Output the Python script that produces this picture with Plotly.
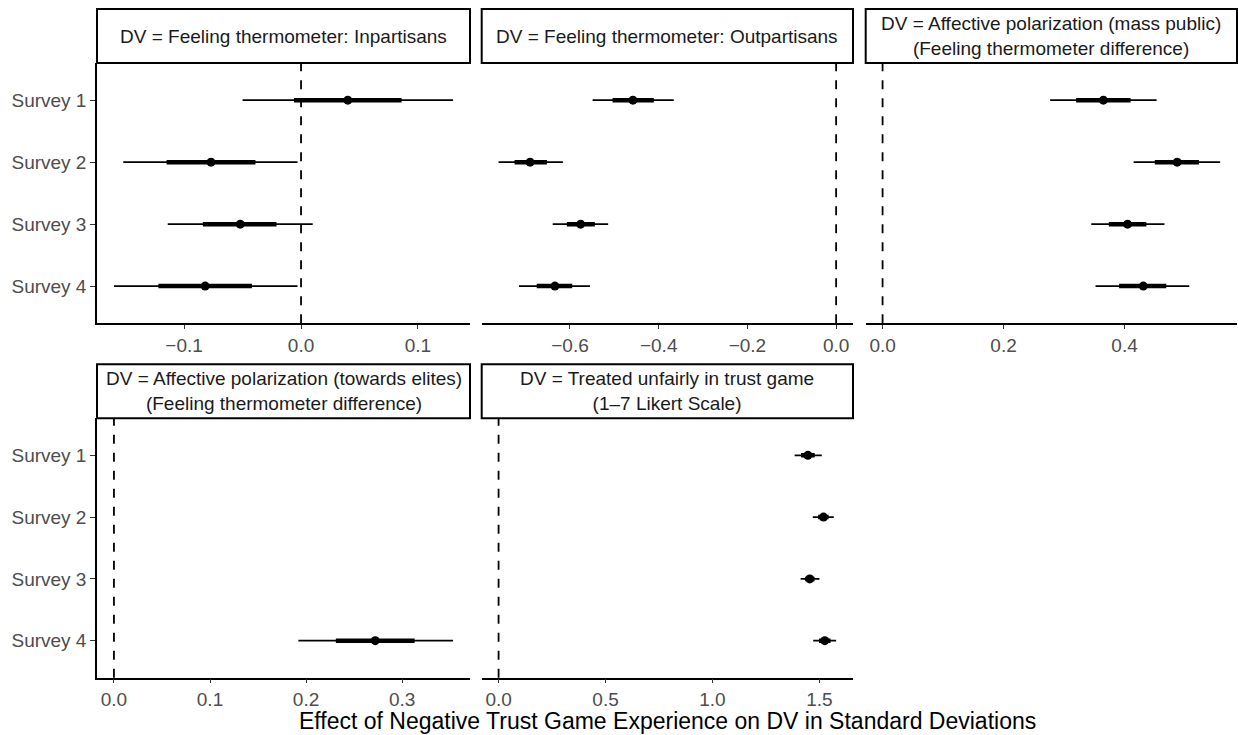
import plotly.graph_objects as go

surveys = ["Survey 1", "Survey 2", "Survey 3", "Survey 4"]
panel_titles = [
    "DV = Feeling thermometer: Inpartisans",
    "DV = Feeling thermometer: Outpartisans",
    "DV = Affective polarization (mass public)<br>(Feeling thermometer difference)",
    "DV = Affective polarization (towards elites)<br>(Feeling thermometer difference)",
    "DV = Treated unfairly in trust game<br>(1\u20137 Likert Scale)",
]
N = None
estimate = [
    [0.040, -0.077, -0.052, -0.082],
    [-0.458, -0.690, -0.576, -0.634],
    [0.365, 0.487, 0.405, 0.431],
    [N, N, N, 0.272],
    [1.446, 1.519, 1.455, 1.525],
]
lower95 = [
    [-0.050, -0.152, -0.114, -0.160],
    [-0.549, -0.761, -0.639, -0.715],
    [0.277, 0.415, 0.345, 0.352],
    [N, N, N, 0.192],
    [1.384, 1.469, 1.412, 1.471],
]
upper95 = [
    [0.130, -0.003, 0.010, -0.003],
    [-0.366, -0.616, -0.514, -0.555],
    [0.453, 0.558, 0.466, 0.507],
    [N, N, N, 0.353],
    [1.511, 1.567, 1.500, 1.578],
]
lower_inner = [
    [-0.006, -0.115, -0.084, -0.122],
    [-0.504, -0.725, -0.607, -0.675],
    [0.320, 0.450, 0.374, 0.391],
    [N, N, N, 0.231],
    [1.414, 1.494, 1.433, 1.498],
]
upper_inner = [
    [0.086, -0.039, -0.021, -0.042],
    [-0.411, -0.652, -0.544, -0.595],
    [0.410, 0.523, 0.436, 0.469],
    [N, N, N, 0.313],
    [1.478, 1.543, 1.477, 1.552],
]
x_dticks = [0.1, 0.2, 0.2, 0.1, 0.5]

W, H = 1238, 735
col_px = [(97, 470), (481.7, 853), (865.7, 1237)]
row_px = [(63, 323.3), (418.3, 677.7)]
strip_px = [(9, 63), (364.3, 418.3)]
positions = [(0, 0), (0, 1), (0, 2), (1, 0), (1, 1)]

FONT = "Liberation Sans, Arial, sans-serif"
TICK_SIZE = 19
fig = go.Figure()
shapes = []
annotations = []
layout = {}

for i in range(5):
    r, c = positions[i]
    sfx = "" if i == 0 else str(i + 1)
    xref, yref = "x" + sfx, "y" + sfx
    est, lo, hi, li, hin = estimate[i], lower95[i], upper95[i], lower_inner[i], upper_inner[i]
    yv = [1, 2, 3, 4]
    xs_thin, ys_thin, xs_thick, ys_thick, xs_pt, ys_pt = [], [], [], [], [], []
    for k in range(4):
        if est[k] is None:
            continue
        xs_thin += [lo[k], hi[k], None]
        ys_thin += [yv[k], yv[k], None]
        xs_thick += [li[k], hin[k], None]
        ys_thick += [yv[k], yv[k], None]
        xs_pt.append(est[k])
        ys_pt.append(yv[k])
    fig.add_trace(go.Scatter(x=xs_thin, y=ys_thin, mode="lines", line=dict(color="black", width=1.8),
                             xaxis=xref, yaxis=yref, showlegend=False, hoverinfo="skip"))
    fig.add_trace(go.Scatter(x=xs_thick, y=ys_thick, mode="lines", line=dict(color="black", width=4.5),
                             xaxis=xref, yaxis=yref, showlegend=False, hoverinfo="skip"))
    fig.add_trace(go.Scatter(x=xs_pt, y=ys_pt, mode="markers", marker=dict(color="black", size=9),
                             xaxis=xref, yaxis=yref, showlegend=False))

    vals = [v for v in lo + hi if v is not None] + [0.0]
    mn, mx = min(vals), max(vals)
    span = mx - mn
    xr = [mn - 0.05 * span, mx + 0.05 * span]

    x0, x1 = col_px[c]
    ytop, ybot = row_px[r]
    xdom = [x0 / W, x1 / W]
    ydom = [1 - ybot / H, 1 - ytop / H]
    layout["xaxis" + sfx] = dict(
        domain=xdom, anchor=yref, range=xr, dtick=x_dticks[i], tick0=0, tickformat=".1f",
        showline=True, linecolor="black", linewidth=1.5, ticks="outside", ticklen=4,
        tickcolor="#333333", tickwidth=1.3, showgrid=False, zeroline=False,
        tickfont=dict(family=FONT, size=TICK_SIZE, color="#4D4D4D"),
    )
    first_col = (c == 0)
    layout["yaxis" + sfx] = dict(
        domain=ydom, anchor=xref, range=[4.6, 0.4], tickvals=yv, ticktext=surveys,
        showticklabels=first_col, showline=first_col, linecolor="black", linewidth=1.5,
        ticks="outside" if first_col else "", ticklen=5, tickcolor="#333333", tickwidth=1.3,
        showgrid=False, zeroline=False,
        tickfont=dict(family=FONT, size=TICK_SIZE, color="#4D4D4D"),
    )
    shapes.append(dict(type="line", xref=xref, yref=yref + " domain", x0=0, x1=0, y0=0, y1=1,
                       line=dict(color="black", width=1.8, dash="9px,9px"), layer="below"))
    st, sb = strip_px[r]
    shapes.append(dict(type="rect", xref="paper", yref="paper", x0=xdom[0], x1=xdom[1],
                       y0=1 - sb / H, y1=1 - st / H, line=dict(color="black", width=2),
                       fillcolor="white", layer="above"))
    annotations.append(dict(text=panel_titles[i], xref="paper", yref="paper",
                            x=(xdom[0] + xdom[1]) / 2, y=1 - (st + sb) / 2 / H,
                            xanchor="center", yanchor="middle", showarrow=False,
                            font=dict(family=FONT, size=TICK_SIZE, color="#1A1A1A")))

annotations.append(dict(text="Effect of Negative Trust Game Experience on DV in Standard Deviations",
                        xref="paper", yref="paper", x=667 / W, y=1 - 721 / H, xanchor="center",
                        yanchor="middle", showarrow=False,
                        font=dict(family=FONT, size=23, color="black")))

fig.update_layout(
    width=W, height=H, margin=dict(l=0, r=0, t=0, b=0),
    paper_bgcolor="white", plot_bgcolor="white",
    shapes=shapes, annotations=annotations, showlegend=False, **layout,
)
fig.write_html("out.html")
